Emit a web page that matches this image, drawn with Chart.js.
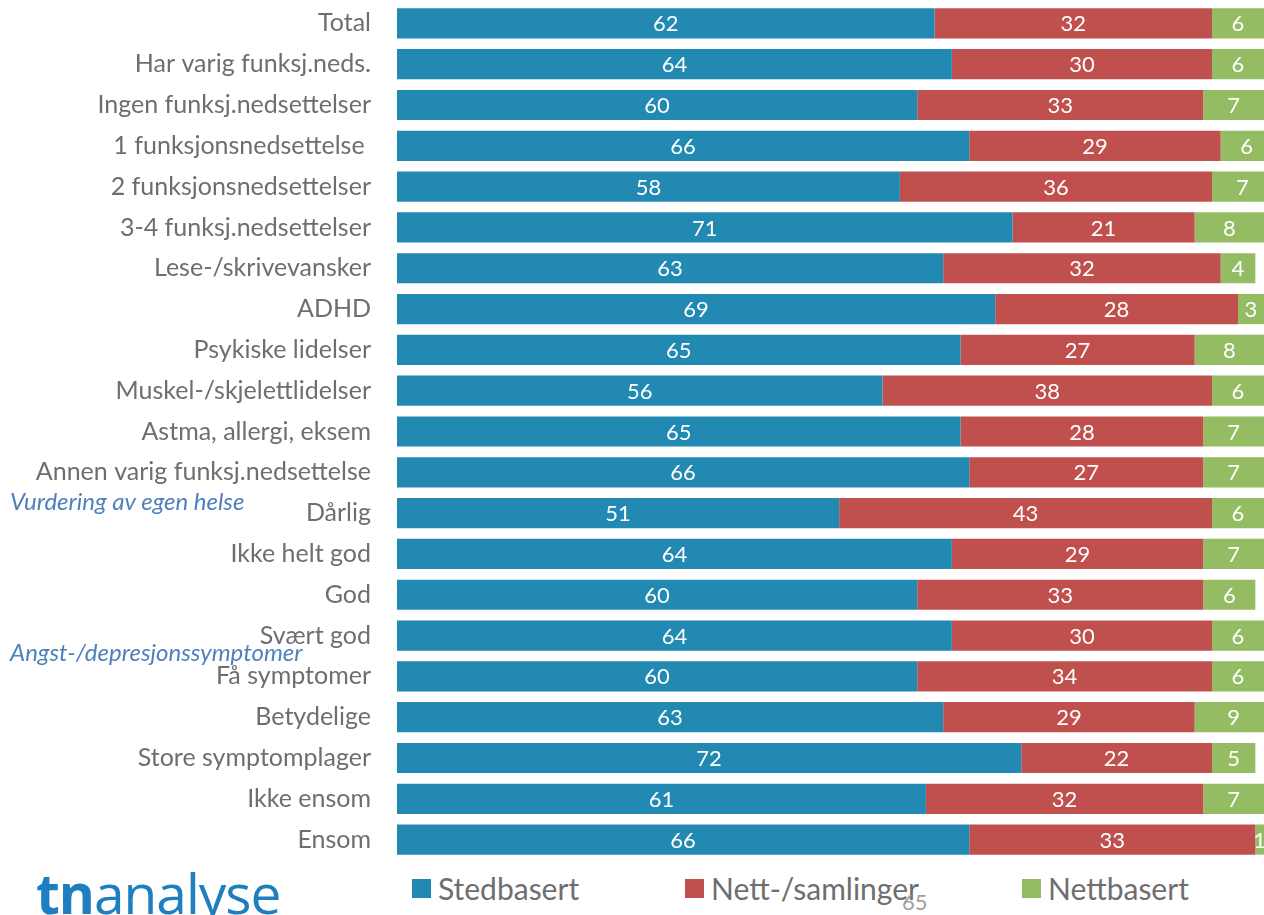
<!DOCTYPE html>
<html>
<head>
<meta charset="utf-8">
<script src="https://cdn.jsdelivr.net/npm/chart.js@4"></script>
<style>
  body { margin: 0; background: #fff; font-family: Lato, sans-serif; overflow: hidden; }
  #chart { position: absolute; left: 0; top: 0; }
  .note { position: absolute; left: 10px; color: #4f81bd; font-style: italic; font-size: 24px; line-height: 28px; }
  #legend { position: absolute; top: 870px; left: 0; width: 1264px; height: 40px; font-size: 30px; color: #6e6e70; }
  .item { position: absolute; top: 0; display: flex; align-items: center; }
  .box { width: 19px; height: 19px; margin-right: 7px; }
  #logo { position: absolute; left: 36px; top: 855px; font-family: "Open Sans", sans-serif; font-size: 55px; color: #1d7fbf; letter-spacing: -1px; }
  #page { position: absolute; left: 902px; top: 888px; font-size: 22px; color: #a0a0a0; }
</style>
</head>
<body>
<canvas id="chart" width="1264" height="864"></canvas>
<div class="note" style="top:487px">Vurdering av egen helse</div>
<div class="note" style="top:638px">Angst-/depresjonssymptomer</div>
<div id="legend"></div>
<div id="logo"><b>tn</b>analyse</div>
<div id="page">65</div>
<script>
document.addEventListener("DOMContentLoaded", function () {
  const categories = [
    "Total",
    "Har varig funksj.neds.",
    "Ingen funksj.nedsettelser",
    "1 funksjonsnedsettelse ",
    "2 funksjonsnedsettelser",
    "3-4 funksj.nedsettelser",
    "Lese-/skrivevansker",
    "ADHD",
    "Psykiske lidelser",
    "Muskel-/skjelettlidelser",
    "Astma, allergi, eksem",
    "Annen varig funksj.nedsettelse",
    "Dårlig",
    "Ikke helt god",
    "God",
    "Svært god",
    "Få symptomer",
    "Betydelige",
    "Store symptomplager",
    "Ikke ensom",
    "Ensom",
  ];
  const stedbasert = [62, 64, 60, 66, 58, 71, 63, 69, 65, 56, 65, 66, 51, 64, 60, 64, 60, 63, 72, 61, 66];
  const nettSamlinger = [32, 30, 33, 29, 36, 21, 32, 28, 27, 38, 28, 27, 43, 29, 33, 30, 34, 29, 22, 32, 33];
  const nettbasert = [6, 6, 7, 6, 7, 8, 4, 3, 8, 6, 7, 7, 6, 7, 6, 6, 6, 9, 5, 7, 1];

  const seriesNames = ["Stedbasert", "Nett-/samlinger", "Nettbasert"];
  const colors = ["#2189b2", "#c0504d", "#94bc62"];
  const legendLeft = [412, 685, 1022];

  const legend = document.getElementById("legend");
  seriesNames.forEach(function (name, i) {
    const item = document.createElement("div");
    item.className = "item";
    item.style.left = legendLeft[i] + "px";
    item.innerHTML = '<span class="box" style="background:' + colors[i] + '"></span>' + name;
    legend.appendChild(item);
  });

  const barLabels = {
    id: "barLabels",
    afterDatasetsDraw(chart) {
      const ctx = chart.ctx;
      ctx.save();
      ctx.font = "22px Lato";
      ctx.fillStyle = "#fff";
      ctx.textAlign = "center";
      ctx.textBaseline = "middle";
      chart.data.datasets.forEach(function (ds, di) {
        chart.getDatasetMeta(di).data.forEach(function (bar, i) {
          const x = (bar.x + bar.base) / 2;
          ctx.fillText(ds.data[i], x, bar.y + 1);
        });
      });
      ctx.restore();
    },
  };

  const ctx = document.getElementById("chart").getContext("2d");
  new Chart(ctx, {
    type: "bar",
    data: {
      labels: categories,
      datasets: [
        { label: seriesNames[0], data: stedbasert, backgroundColor: colors[0] },
        { label: seriesNames[1], data: nettSamlinger, backgroundColor: colors[1] },
        { label: seriesNames[2], data: nettbasert, backgroundColor: colors[2] },
      ],
    },
    options: {
      indexAxis: "y",
      responsive: false,
      animation: false,
      layout: { padding: { top: 3, bottom: 4, right: 0, left: 0 } },
      datasets: { bar: { categoryPercentage: 0.74, barPercentage: 1 } },
      plugins: { legend: { display: false }, tooltip: { enabled: false } },
      scales: {
        x: { stacked: true, min: 0, max: 100, display: false },
        y: {
          stacked: true,
          grid: { display: false, drawTicks: false },
          border: { display: false },
          ticks: { color: "#6e6e70", font: { family: "Lato", size: 25 }, padding: 26 },
          afterFit(axis) {
            axis.width = 397;
            axis.paddingTop = 0;
            axis.paddingBottom = 0;
          },
        },
      },
    },
    plugins: [barLabels],
  });
});
</script>
</body>
</html>
